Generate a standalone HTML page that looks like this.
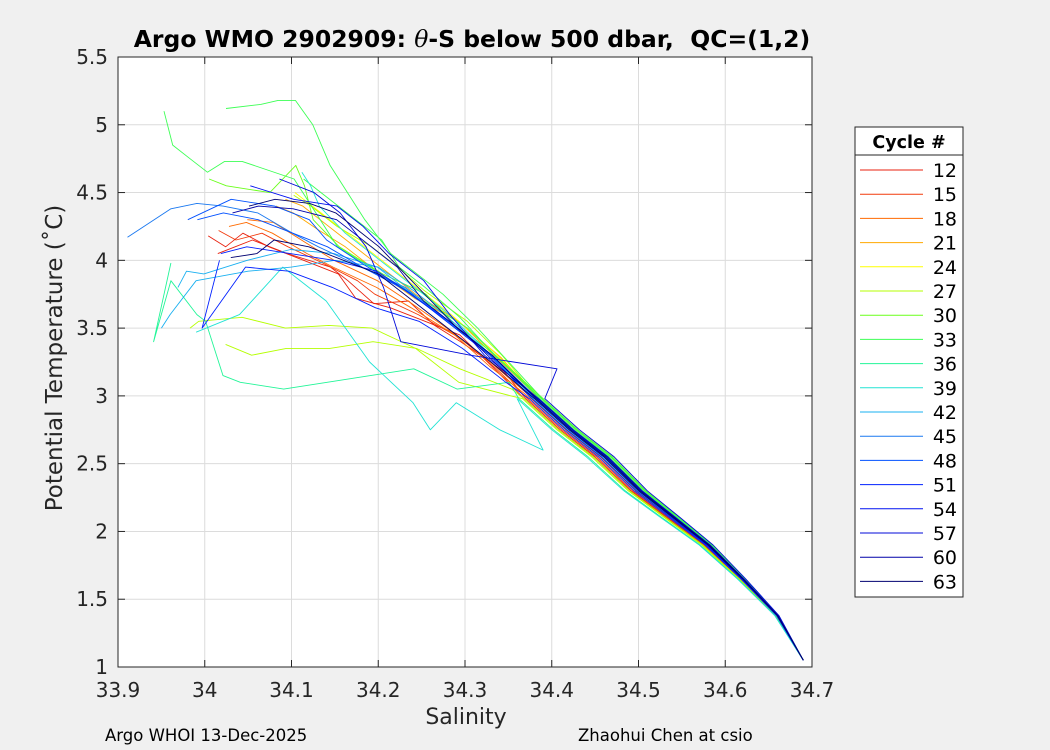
<!DOCTYPE html>
<html><head><meta charset="utf-8">
<style>
body{margin:0;background:#f0f0f0;}
svg{display:block;font-family:"DejaVu Sans","Liberation Sans",sans-serif;}
</style></head>
<body>
<svg id="chart" width="1050" height="750" xmlns="http://www.w3.org/2000/svg">
<rect x="0" y="0" width="1050" height="750" fill="#f0f0f0"/>
<rect x="118" y="57" width="694" height="610" fill="#ffffff"/>
<g id="grid"></g>
<g id="series"></g>
<rect x="118" y="57" width="694" height="610" fill="none" stroke="#262626" stroke-width="1"/>
<g id="ticks"></g>
<text x="472" y="47" text-anchor="middle" font-size="23.5" font-weight="bold" fill="#000">Argo WMO 2902909: <tspan font-family="DejaVu Serif, serif" font-style="italic" font-weight="normal">θ</tspan>-S below 500 dbar,&#160; QC=(1,2)</text>
<text x="466" y="724" text-anchor="middle" font-size="22" fill="#262626">Salinity</text>
<text transform="translate(62,358) rotate(-90)" text-anchor="middle" font-size="23" fill="#262626">Potential Temperature (˚C)</text>
<text x="105" y="741" font-size="16.5" fill="#000">Argo WHOI 13-Dec-2025</text>
<text x="578" y="741" font-size="16.5" fill="#000">Zhaohui Chen at csio</text>
<g id="legend">
<rect x="855" y="127" width="108" height="470" fill="#fff" stroke="#262626" stroke-width="1"/>
<line x1="855" y1="155" x2="963" y2="155" stroke="#262626" stroke-width="1"/>
<text x="909" y="148" text-anchor="middle" font-size="17.5" font-weight="bold" fill="#000">Cycle #</text>
</g>
</svg>
<script>
const NS='http://www.w3.org/2000/svg';
const xTicks=[33.9,34,34.1,34.2,34.3,34.4,34.5,34.6,34.7];
const xTickLabels=['33.9','34','34.1','34.2','34.3','34.4','34.5','34.6','34.7'];
const yTicks=[1,1.5,2,2.5,3,3.5,4,4.5,5,5.5];
const yTickLabels=['1','1.5','2','2.5','3','3.5','4','4.5','5','5.5'];
const legendCycles=[12,15,18,21,24,27,30,33,36,39,42,45,48,51,54,57,60,63];
const legendColors=['#e8220f','#f23a0c','#ff6a00','#ffa800','#ffff00','#b5ff00','#6aff1a','#3dff55','#22f598','#22e3d4','#1ab0f0','#1a78f0','#0050ff','#0020ff','#0010f0','#0008d8','#0000a8','#000070'];
// common deep tail
const deepS=[34.69,34.66,34.62,34.58,34.54,34.5,34.46,34.42,34.38];
const deepT=[1.05,1.38,1.65,1.9,2.1,2.3,2.55,2.75,2.98];
const deepW=[0,0.15,0.3,0.5,0.7,0.85,1,1,1];
// per-profile salinity offsets of deep part
const profDS=[-0.012,-0.01,-0.008,-0.004,-0.002,0.004,0.006,0.008,0.005,-0.014,-0.012,0.01,0.008,0.006,0.009,-0.018,0.004,-0.02,0.0,-0.002,0.002,0.003,0.001,-0.003,-0.006,0.005,0.012,0.004,0.002,0.0];
// shallow parts of profiles
const profCycle=[12,13,15,17,18,20,21,24,26,27,28,30,32,33,34,36,38,39,41,42,45,47,48,50,51,54,57,60,62,63];
const profS=[
[34.34,34.3,34.26,34.22,34.18,34.16,34.12,34.08,34.05,34.03,34.01],
[34.35,34.3,34.27,34.24,34.2,34.17,34.15,34.1,34.06,34.04,34.02],
[34.34,34.3,34.25,34.2,34.18,34.14,34.1,34.07,34.04,34.02],
[34.33,34.29,34.24,34.2,34.15,34.12,34.08,34.05,34.03],
[34.33,34.28,34.24,34.2,34.15,34.12,34.08,34.05],
[34.34,34.29,34.24,34.2,34.16,34.13,34.1,34.08],
[34.33,34.29,34.24,34.2,34.16,34.13,34.11,34.09],
[34.33,34.28,34.24,34.2,34.16,34.13,34.11,34.1],
[34.34,34.3,34.25,34.22,34.19,34.15,34.12,34.1],
[34.36,34.3,34.25,34.2,34.15,34.1,34.05,34.0,33.99],
[34.36,34.3,34.25,34.2,34.15,34.1,34.06,34.03],
[34.33,34.28,34.25,34.2,34.15,34.12,34.11,34.1,34.07,34.02,34.0],
[34.33,34.29,34.25,34.22,34.2,34.16,34.13,34.11],
[34.3,34.25,34.2,34.15,34.12,34.1,34.04,34.02,34.0,33.98,33.96,33.95],
[34.31,34.27,34.24,34.21,34.18,34.14,34.12,34.1,34.08,34.06,34.02],
[34.36,34.3,34.25,34.2,34.15,34.1,34.05,34.03,34.01,34.0,33.97,33.95,33.97],
[34.32,34.28,34.24,34.2,34.16,34.13,34.12,34.11],
[34.4,34.35,34.3,34.27,34.25,34.2,34.15,34.1,34.05,34.0],
[34.33,34.28,34.24,34.2,34.15,34.1,34.05,33.99,33.96,33.95],
[34.33,34.28,34.24,34.2,34.15,34.1,34.05,34.0,33.98,33.97],
[34.33,34.28,34.23,34.18,34.13,34.1,34.06,34.02,33.99,33.96,33.91],
[34.33,34.28,34.23,34.18,34.14,34.1,34.06,34.02,33.99],
[34.33,34.28,34.23,34.18,34.14,34.12,34.08,34.03,33.98],
[34.33,34.28,34.24,34.2,34.15,34.1,34.05,34.02],
[34.35,34.3,34.25,34.2,34.15,34.1,34.05,34.0,34.02],
[34.32,34.28,34.25,34.21,34.18,34.15,34.1,34.05],
[34.4,34.3,34.22,34.2,34.18,34.15,34.12,34.08],
[34.34,34.3,34.25,34.22,34.2,34.17,34.15,34.1,34.06,34.03],
[34.33,34.29,34.26,34.23,34.2,34.17,34.15,34.12,34.08,34.05],
[34.33,34.28,34.24,34.2,34.16,34.12,34.08,34.06,34.03]
];
const profT=[
[3.2,3.45,3.55,3.65,3.72,3.9,4.0,4.1,4.2,4.1,4.18],
[3.18,3.4,3.52,3.7,3.68,3.85,3.95,4.05,4.15,4.1,4.05],
[3.2,3.42,3.6,3.75,3.85,3.98,4.1,4.2,4.15,4.22],
[3.22,3.45,3.65,3.8,3.95,4.05,4.2,4.28,4.25],
[3.25,3.5,3.68,3.85,4.0,4.12,4.28,4.3],
[3.28,3.55,3.72,3.9,4.1,4.22,4.35,4.4],
[3.3,3.55,3.75,3.95,4.15,4.3,4.4,4.45],
[3.32,3.6,3.8,4.0,4.2,4.35,4.45,4.5],
[3.3,3.55,3.78,3.95,4.1,4.25,4.4,4.48],
[3.0,3.1,3.35,3.5,3.52,3.5,3.58,3.55,3.5],
[3.05,3.2,3.35,3.4,3.35,3.35,3.3,3.38],
[3.3,3.55,3.75,3.9,4.1,4.3,4.55,4.7,4.5,4.55,4.6],
[3.3,3.58,3.8,3.95,4.15,4.35,4.5,4.6],
[3.5,3.7,3.9,4.1,4.4,4.6,4.73,4.73,4.65,4.75,4.85,5.1],
[3.5,3.75,3.9,4.05,4.3,4.7,5.0,5.18,5.18,5.15,5.12],
[3.1,3.05,3.2,3.15,3.1,3.05,3.1,3.15,3.55,3.6,3.85,3.4,3.98],
[3.35,3.6,3.8,4.0,4.2,4.4,4.55,4.65],
[2.6,2.75,2.95,2.75,2.95,3.25,3.7,3.95,3.6,3.47],
[3.3,3.58,3.78,3.95,4.0,3.95,3.92,3.85,3.6,3.5],
[3.3,3.55,3.75,3.95,4.05,4.08,4.0,3.9,3.92,3.8],
[3.3,3.55,3.8,3.95,4.1,4.2,4.35,4.4,4.42,4.38,4.17],
[3.3,3.55,3.78,3.95,4.1,4.2,4.3,4.35,4.3],
[3.3,3.55,3.78,3.98,4.15,4.3,4.4,4.45,4.3],
[3.3,3.55,3.75,3.92,4.0,4.05,4.1,4.05],
[3.1,3.35,3.55,3.65,3.8,3.92,3.95,3.5,4.0],
[3.3,3.6,3.85,4.05,4.25,4.4,4.45,4.55],
[3.2,3.3,3.4,3.8,4.1,4.35,4.5,4.6],
[3.2,3.45,3.7,3.95,4.05,4.2,4.3,4.38,4.4,4.35],
[3.3,3.5,3.7,3.9,4.1,4.25,4.35,4.42,4.45,4.4],
[3.25,3.5,3.7,3.9,4.0,4.1,4.15,4.05,4.02]
];
const xs=s=>118+(s-33.9)/0.8*694;
const ys=t=>667-(t-1)/4.5*610;
function el(tag,attrs,parent){const e=document.createElementNS(NS,tag);for(const k in attrs)e.setAttribute(k,attrs[k]);parent.appendChild(e);return e;}
const grid=document.getElementById('grid'),ticks=document.getElementById('ticks');
xTicks.forEach((v,i)=>{
  const x=xs(v);
  if(i>0&&i<xTicks.length-1){const g=el('line',{x1:x,y1:57,x2:x,y2:667,stroke:'#dcdcdc','stroke-width':1},grid);
  
  }
  const t=el('line',{x1:x,y1:667,x2:x,y2:660,stroke:'#262626'},ticks);
  
  
  const tt=el('line',{x1:x,y1:57,x2:x,y2:64,stroke:'#262626'},ticks);
  
  
  const l=el('text',{x:x,y:697,'text-anchor':'middle','font-size':20,fill:'#262626'},ticks);
  l.textContent=xTickLabels[i];
  
  
});
yTicks.forEach((v,i)=>{
  const y=ys(v);
  if(i>0&&i<yTicks.length-1){const g=el('line',{x1:118,y1:y,x2:812,y2:y,stroke:'#dcdcdc','stroke-width':1},grid);
  
  }
  const t=el('line',{x1:118,y1:y,x2:125,y2:y,stroke:'#262626'},ticks);
  
  
  const tr=el('line',{x1:805,y1:y,x2:812,y2:y,stroke:'#262626'},ticks);
  
  
  const l=el('text',{x:108,y:y+7,'text-anchor':'end','font-size':20,fill:'#262626'},ticks);
  l.textContent=yTickLabels[i];
  
  
});
function colorFor(c){let bi=0;legendCycles.forEach((lc,i)=>{if(Math.abs(lc-c)<Math.abs(legendCycles[bi]-c))bi=i;});return legendColors[bi];}
const series=document.getElementById('series');
profCycle.forEach((c,i)=>{
  const pts=[];
  deepS.forEach((s,j)=>pts.push(xs(s+profDS[i]*deepW[j]).toFixed(1)+','+ys(deepT[j]).toFixed(1)));
  profS[i].forEach((s,j)=>pts.push(xs(s+profDS[i]*0.5).toFixed(1)+','+ys(profT[i][j]).toFixed(1)));
  const p=el('polyline',{points:pts.join(' '),fill:'none',stroke:colorFor(c),'stroke-width':0.9,'stroke-linejoin':'round'},series);
  
  
});
const legend=document.getElementById('legend');
legendCycles.forEach((c,i)=>{
  const y=170+i*24.2;
  const ln=el('line',{x1:860,y1:y,x2:923,y2:y,stroke:legendColors[i],'stroke-width':1},legend);
  
  
  const t=el('text',{x:957,y:y+7,'text-anchor':'end','font-size':19,fill:'#000'},legend);
  t.textContent=c;
  
  
});
</script>
</body></html>
